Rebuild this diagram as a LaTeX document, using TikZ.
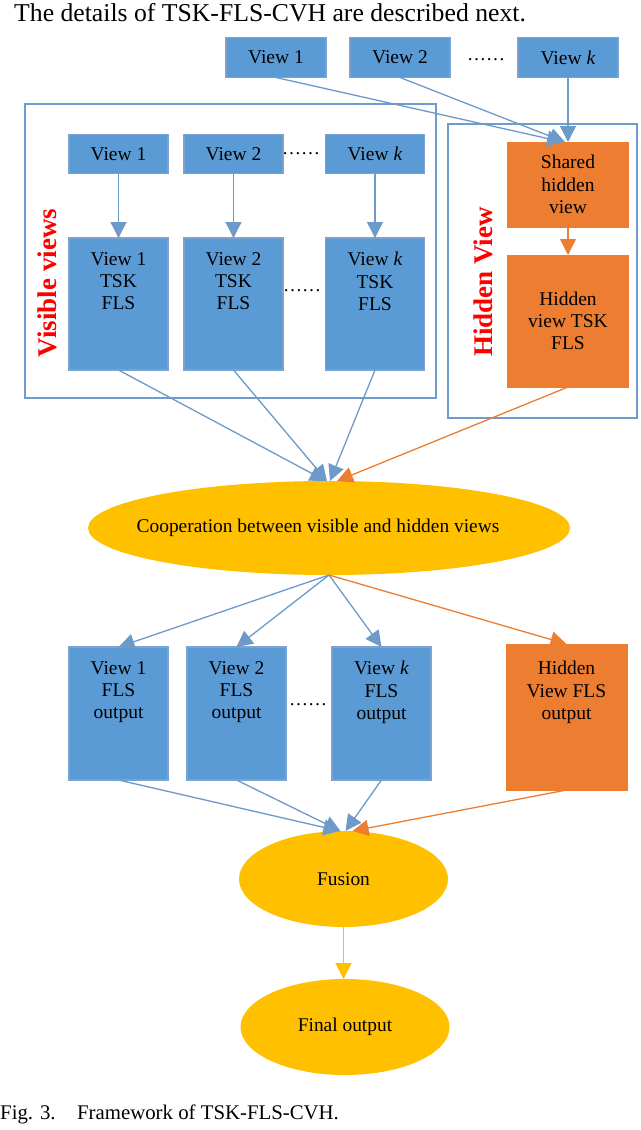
\documentclass[tikz,border=0pt]{standalone}
\usepackage{fontspec}
\setmainfont{Liberation Serif}
\usetikzlibrary{arrows.meta,shapes.geometric}
\definecolor{fillblue}{HTML}{5B9BD5}
\definecolor{edgeblue}{HTML}{7AA3D2}
\definecolor{frameblue}{HTML}{6F9BCF}
\definecolor{arrblue}{HTML}{6D9AC9}
\definecolor{fillorange}{HTML}{ED7D31}
\definecolor{fillyellow}{HTML}{FFC000}
\definecolor{redlbl}{HTML}{FF0000}
\begin{document}
\begin{tikzpicture}[x=1pt,y=-1pt,
  bbox/.style={draw=edgeblue, fill=fillblue, line width=1.2pt, inner sep=0pt, outer sep=0pt},
  obox/.style={draw=fillorange, fill=fillorange, line width=1pt, inner sep=0pt, outer sep=0pt},
  framebox/.style={draw=frameblue, line width=2.6pt, inner sep=0pt, outer sep=0pt},
  ell/.style={ellipse, fill=fillyellow, draw=none, inner sep=0pt, outer sep=0pt},
  lbl/.style={align=center, inner sep=0pt, font=\fontsize{19.5}{22.3}\selectfont},
  elbl/.style={align=center, inner sep=0pt, font=\fontsize{19.4}{23}\selectfont},
  dotsl/.style={inner sep=0pt, font=\fontsize{19}{22.3}\selectfont},
  side/.style={rotate=90, text=redlbl, inner sep=0pt, font=\fontsize{27}{30}\selectfont\bfseries},
  barr/.style={draw=arrblue, line width=1.3pt, -{Triangle[length=16pt,width=16pt]}},
  oarr/.style={draw=fillorange, line width=1.3pt, -{Triangle[length=16pt,width=16pt]}},
  yarr/.style={draw=fillyellow, line width=1.3pt, -{Triangle[length=16pt,width=16pt]}},
]
\useasboundingbox (0,0) rectangle (640,1130);
\fill[white] (0,0) rectangle (640,1130);

% intro text
\node[anchor=base west, inner sep=0pt, font=\fontsize{25.7}{30}\selectfont] (intro) at (14,21) {The details of TSK-FLS-CVH are described next.};

% top views
\node[bbox, minimum width=100, minimum height=40] (v1t) at (276,57.5) {};
\node[bbox, minimum width=100, minimum height=40] (v2t) at (400,57.5) {};
\node[bbox, minimum width=100, minimum height=40] (vkt) at (568,57.5) {};
\node[dotsl] (dtop) at (486,60) {……};

% visible frame
\node[framebox, minimum width=411, minimum height=294] (visframe) at (230.5,251) {};
\node[side] (vislbl) at (47,283) {Visible views};

\node[bbox, minimum width=99, minimum height=39] (vi1) at (118.5,154) {};
\node[bbox, minimum width=99, minimum height=39] (vi2) at (233.5,154) {};
\node[bbox, minimum width=99, minimum height=39] (vik) at (375,154) {};
\node[dotsl] (dinner) at (301,154) {……};

\node[bbox, minimum width=99, minimum height=132] (t1) at (118.5,304) {};
\node[bbox, minimum width=99, minimum height=132] (t2) at (233.5,304) {};
\node[bbox, minimum width=99, minimum height=132] (tk) at (375,304) {};
\node[dotsl] (dtsk) at (302,291) {……};

% hidden frame
\node[framebox, minimum width=189, minimum height=294] (hidframe) at (542.5,271) {};
\node[side] (hidlbl) at (483,282) {Hidden View};
\node[obox, minimum width=121, minimum height=85] (shared) at (568,184.5) {};
\node[obox, minimum width=121, minimum height=132] (htsk) at (568,321) {};

% cooperation
\node[ell, minimum width=482, minimum height=94] (coop) at (329,528) {};

% outputs
\node[bbox, minimum width=99, minimum height=133] (o1) at (118.5,713.5) {};
\node[bbox, minimum width=99, minimum height=133] (o2) at (236.5,713.5) {};
\node[bbox, minimum width=99, minimum height=133] (ok) at (381.5,713.5) {};
\node[dotsl] (dout) at (308,705) {……};
\node[obox, minimum width=121, minimum height=146] (oh) at (566.5,717) {};

% fusion and final
\node[ell, minimum width=209, minimum height=96] (fusion) at (343.5,879) {};
\node[ell, minimum width=209, minimum height=96] (final) at (345,1027) {};

% caption
\node[anchor=base west, inner sep=0pt, font=\fontsize{20.8}{24}\selectfont] (cap) at (0,1119) {\makebox[77pt][l]{Fig. 3.}Framework of TSK-FLS-CVH.};

% arrows: top views to shared hidden view
\draw[barr] (v1t.south) -- ([xshift=-5]shared.north);
\draw[barr] (v2t.south) -- ([xshift=-3]shared.north);
\draw[barr] (vkt.south) -- (shared.north);
% visible views to TSK
\draw[barr] (vi1.south) -- (t1.north);
\draw[barr] (vi2.south) -- (t2.north);
\draw[barr] (vik.south) -- (tk.north);
\draw[oarr] (shared.south) -- (htsk.north);
% into cooperation
\draw[barr] (t1.south) -- ([xshift=-3]coop.north);
\draw[barr] (t2.south) -- ([xshift=-2]coop.north);
\draw[barr] (tk.south) -- ([xshift=1]coop.north);
\draw[oarr] (htsk.south) -- ([xshift=8]coop.north);
% out of cooperation
\draw[barr] (coop.south) -- (o1.north);
\draw[barr] (coop.south) -- (o2.north);
\draw[barr] (coop.south) -- (ok.north);
\draw[oarr] (coop.south) -- (oh.north);
% into fusion
\draw[barr] (o1.south) -- ([xshift=-4]fusion.north);
\draw[barr] (o2.south) -- ([xshift=-3]fusion.north);
\draw[barr] (ok.south) -- ([xshift=2]fusion.north);
\draw[oarr] (oh.south) -- ([xshift=9]fusion.north);
\draw[yarr] (fusion.south) -- (fusion.south |- final.north);

% labels
\node[lbl] (v1tl) at (v1t) {View 1};
\node[lbl] (v2tl) at (v2t) {View 2};
\node[lbl] (vktl) at (vkt) {View \textit{k}};
\node[lbl] (vi1l) at (vi1) {View 1};
\node[lbl] (vi2l) at (vi2) {View 2};
\node[lbl] (vikl) at (vik) {View \textit{k}};
\node[lbl, anchor=north] (t1l) at ([yshift=-14]t1.north) {View 1\\TSK\\FLS};
\node[lbl, anchor=north] (t2l) at ([yshift=-14]t2.north) {View 2\\TSK\\FLS};
\node[lbl, anchor=north] (tkl) at ([yshift=-14]tk.north) {View \textit{k}\\TSK\\FLS};
\node[lbl] (sharedl) at (shared) {Shared\\hidden\\view};
\node[lbl] (htskl) at (htsk) {Hidden\\view TSK\\FLS};
\node[elbl] (coopl) at ([xshift=-11]coop.center) {Cooperation between visible and hidden views};
\node[lbl, anchor=north] (o1l) at ([yshift=-14]o1.north) {View 1\\FLS\\output};
\node[lbl, anchor=north] (o2l) at ([yshift=-14]o2.north) {View 2\\FLS\\output};
\node[lbl, anchor=north] (okl) at ([yshift=-14]ok.north) {View \textit{k}\\FLS\\output};
\node[lbl, anchor=north] (ohl) at ([yshift=-17]oh.north) {Hidden\\View FLS\\output};
\node[elbl] (fusionl) at (fusion) {Fusion};
\node[elbl] (finall) at (final) {Final output};
\end{tikzpicture}
\end{document}
